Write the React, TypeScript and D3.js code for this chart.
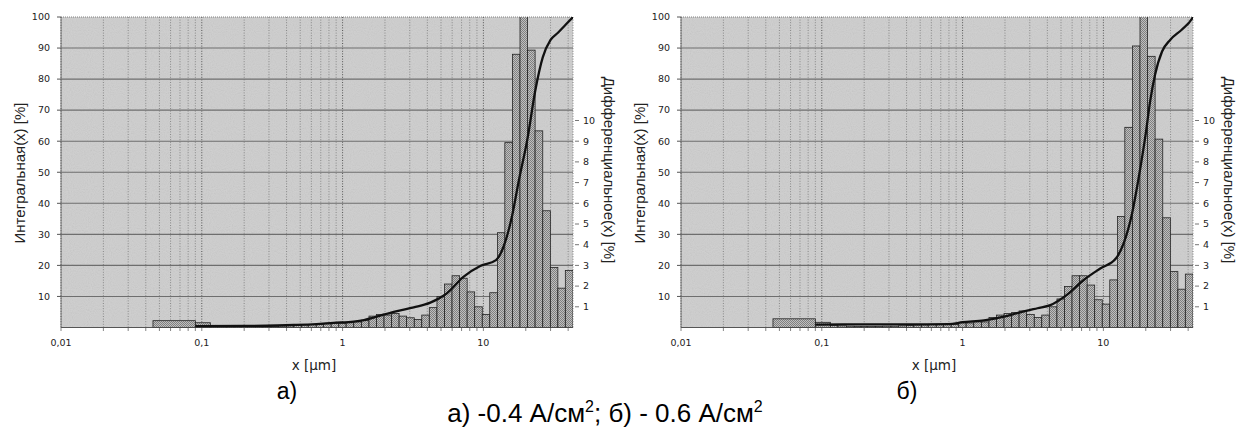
import React from 'react';
import * as d3 from 'd3';

// bin edges of the size classes, µm
const binEdges = [
  0.045, 0.09, 0.115, 0.13, 0.15, 0.17, 0.19, 0.21, 0.24, 0.27, 0.31, 0.35, 0.4, 0.45, 0.51, 0.57,
  0.65, 0.73, 0.83, 0.94, 1.06, 1.2, 1.36, 1.54, 1.74, 1.97, 2.23, 2.52, 2.85, 3.23, 3.65, 4.13,
  4.68, 5.29, 5.99, 6.78, 7.67, 8.67, 9.82, 11.1, 12.6, 14.2, 16.1, 18.2, 20.6, 23.3, 26.4, 29.9,
  33.8, 38.2, 43.3,
];

// differential distribution, % per class
const diffA = [
  0.33, 0.23, 0.1, 0.08, 0.06, 0.05, 0.05, 0.05, 0.05, 0.06, 0.06, 0.08, 0.1, 0.12, 0.14, 0.15,
  0.16, 0.18, 0.2, 0.2, 0.23, 0.27, 0.35, 0.55, 0.63, 0.6, 0.68, 0.55, 0.47, 0.39, 0.6, 0.96,
  1.5, 2.1, 2.5, 2.38, 1.72, 1.0, 0.63, 1.68, 4.58, 8.93, 13.2, 16.5, 13.4, 9.5, 5.64, 2.9,
  1.9, 2.75,
];
const diffB = [
  0.42, 0.25, 0.1, 0.08, 0.06, 0.05, 0.05, 0.05, 0.05, 0.06, 0.06, 0.08, 0.1, 0.12, 0.13, 0.14,
  0.15, 0.15, 0.15, 0.22, 0.22, 0.27, 0.27, 0.48, 0.6, 0.68, 0.72, 0.8, 0.63, 0.48, 0.6, 1.0,
  1.38, 1.98, 2.5, 2.5, 2.05, 1.34, 1.13, 2.3, 5.36, 9.67, 13.6, 16.5, 13.1, 9.1, 5.3, 2.7,
  1.85, 2.58,
];

// cumulative distribution
const cumXA = [0.09, 0.2, 0.45, 0.65, 0.86, 1.2, 1.42, 1.97, 2.44, 3.2, 4.2, 5.5, 7.25, 9.5, 12.3, 13.9, 16, 17.8, 20.6, 23.3, 26.4, 30, 34, 38.2, 43.3];
const cumYA = [0.4, 0.5, 0.8, 1.1, 1.5, 1.9, 2.4, 4.2, 5.3, 6.5, 8, 11, 16.4, 19.8, 21.7, 26, 36, 47, 61, 76, 87, 92.6, 95, 97.4, 100];
const cumXB = [0.09, 0.2, 0.45, 0.8, 1.0, 1.42, 1.97, 2.44, 3.4, 4.2, 5.5, 7.25, 9.5, 12.3, 13.9, 16, 17.7, 20, 21.5, 23.3, 26.1, 29.9, 36, 42.8, 43.3];
const cumYB = [0.9, 1.0, 1.0, 1.1, 1.7, 2.3, 3.5, 4.6, 6.2, 7.2, 10.5, 15.3, 19, 22.3, 27, 36.8, 47.5, 62.5, 73, 81.5, 88.9, 92.7, 95.9, 99.6, 100];

const leftTicks = [10, 20, 30, 40, 50, 60, 70, 80, 90, 100];
const rightTicks = [1, 2, 3, 4, 5, 6, 7, 8, 9, 10];
const xTicks = [0.01, 0.1, 1, 10];
const xTickLabels = ['0,01', '0,1', '1', '10'];

const PLOT = { x0: 61, x1: 573, y0: 17, y1: 327.5 };
const small = '"DejaVu Sans", Verdana, sans-serif';
const big = '"Liberation Sans", Arial, sans-serif';

type PanelProps = { dx: number; diff: number[]; cumX: number[]; cumY: number[]; id: string; letter: string };

const Panel = ({ dx, diff, cumX, cumY, id, letter }: PanelProps) => {
  const x = d3.scaleLog().domain([0.01, 43.3]).range([PLOT.x0 + dx, PLOT.x1 + dx]);
  const yL = d3.scaleLinear().domain([0, 100]).range([PLOT.y1, PLOT.y0]);
  const yR = d3.scaleLinear().domain([0, 15]).range([PLOT.y1, PLOT.y0]);
  const minor = x.ticks();
  const line = d3
    .line<number>()
    .x((d, i) => x(cumX[i]))
    .y((d) => yL(d))
    .curve(d3.curveMonotoneX);

  return (
    <g>
      <defs>
        <clipPath id={`clip-${id}`}>
          <rect x={x(0.01)} y={PLOT.y0} width={x(43.3) - x(0.01)} height={PLOT.y1 - PLOT.y0} />
        </clipPath>
      </defs>
      <rect x={x(0.01)} y={PLOT.y0} width={x(43.3) - x(0.01)} height={PLOT.y1 - PLOT.y0} fill="#cecece" />
      <rect x={x(0.01)} y={PLOT.y0} width={x(43.3) - x(0.01)} height={PLOT.y1 - PLOT.y0} filter="url(#grain)" opacity={0.22} />

      {minor.map((v) => {
        const decade = Math.abs(Math.log10(v) - Math.round(Math.log10(v))) < 1e-6;
        return (
          <g key={v}>
            <line x1={x(v)} x2={x(v)} y1={PLOT.y0} y2={PLOT.y1} stroke={decade ? '#555' : '#777'}
              strokeWidth={decade ? 1 : 0.8} strokeDasharray="1,1.6" />
            <line x1={x(v)} x2={x(v)} y1={PLOT.y1} y2={PLOT.y1 + 3.5} stroke="#666" strokeWidth={0.8} />
          </g>
        );
      })}
      <line x1={x(43.3)} x2={x(43.3)} y1={PLOT.y0} y2={PLOT.y1} stroke="#666" strokeWidth={0.8} strokeDasharray="1,1.6" />

      {leftTicks.slice(0, -1).map((t) => (
        <line key={t} x1={x(0.01)} x2={x(43.3)} y1={yL(t)} y2={yL(t)} stroke="#6e6e6e" strokeWidth={1.1} />
      ))}
      <line x1={x(0.01)} x2={x(43.3)} y1={PLOT.y0} y2={PLOT.y0} stroke="#777" strokeWidth={0.9} strokeDasharray="1,1" />
      <line x1={x(0.01)} x2={x(43.3)} y1={PLOT.y1} y2={PLOT.y1} stroke="#555" strokeWidth={1} />
      <line x1={x(0.01)} x2={x(0.01)} y1={PLOT.y0} y2={PLOT.y1} stroke="#666" strokeWidth={0.9} />

      <g clipPath={`url(#clip-${id})`}>
        {diff.map((v, i) => (
          <rect key={i} x={x(binEdges[i])} width={x(binEdges[i + 1]) - x(binEdges[i])}
            y={yR(v)} height={yR(0) - yR(v)} fill="url(#hatch)" stroke="#222" strokeWidth={0.8} />
        ))}
        <path d={line(cumY) || ''} fill="none" stroke="#111" strokeWidth={2.3} />
      </g>

      {leftTicks.map((t) => (
        <g key={t}>
          <line x1={x(0.01) - 4} x2={x(0.01)} y1={yL(t)} y2={yL(t)} stroke="#555" />
          <text x={x(0.01) - 11} y={yL(t)} dy="0.35em" textAnchor="end" fontFamily={small} fontSize={9.5} fill="#222">{t}</text>
        </g>
      ))}
      {rightTicks.map((t) => (
        <g key={t}>
          <line x1={x(43.3) + 2} x2={x(43.3) + 6} y1={yR(t)} y2={yR(t)} stroke="#777" />
          <text x={x(43.3) + 10} y={yR(t)} dy="0.35em" textAnchor="start" fontFamily={small} fontSize={9.5} fill="#222">{t}</text>
        </g>
      ))}
      {xTicks.map((t, i) => (
        <text key={t} x={x(t)} y={PLOT.y1 + 18} textAnchor="middle" fontFamily={small} fontSize={9.5} fill="#222">{xTickLabels[i]}</text>
      ))}
      <text x={x(0.01) + 253} y={PLOT.y1 + 42} textAnchor="middle" fontFamily={small} fontSize={13.5} fill="#222">x [µm]</text>

      <text transform={`translate(${dx + 19},${173}) rotate(-90)`} textAnchor="middle" dominantBaseline="central"
        fontFamily={big} fontSize={15} fill="#222">Интегральная(x) [%]</text>
      <text transform={`translate(${x(43.3) + 36},${170}) rotate(90)`} textAnchor="middle" dominantBaseline="central"
        fontFamily={big} fontSize={15} fill="#222">Дифференциальное(x) [%]</text>

      <text x={dx + 287} y={399} textAnchor="middle" fontFamily={big} fontSize={23} fill="#000">{letter}</text>
    </g>
  );
};

export default function App() {
  return (
    <svg width={1238} height={432} style={{ display: 'block', position: 'absolute', left: 0, top: 0, background: '#fff' }}>
      <defs>
        <pattern id="hatch" width={2} height={2} patternUnits="userSpaceOnUse">
          <rect width={2} height={2} fill="#bfbfbf" />
          <rect width={1} height={1} fill="#808080" />
          <rect x={1} y={1} width={1} height={1} fill="#808080" />
        </pattern>
        <filter id="grain" x="0" y="0" width="100%" height="100%">
          <feTurbulence type="fractalNoise" baseFrequency="0.95" numOctaves={1} seed={4} />
          <feColorMatrix type="saturate" values="0" />
        </filter>
      </defs>
      <Panel dx={0} diff={diffA} cumX={cumXA} cumY={cumYA} id="a" letter="а)" />
      <Panel dx={620} diff={diffB} cumX={cumXB} cumY={cumYB} id="b" letter="б)" />
      <text x={605} y={422} textAnchor="middle" fontFamily={big} fontSize={26} fill="#000">
        а) -0.4 А/см<tspan dy={-10} fontSize={16}>2</tspan><tspan dy={10}>; б) - 0.6 А/см</tspan><tspan dy={-10} fontSize={16}>2</tspan>
      </text>
    </svg>
  );
}
